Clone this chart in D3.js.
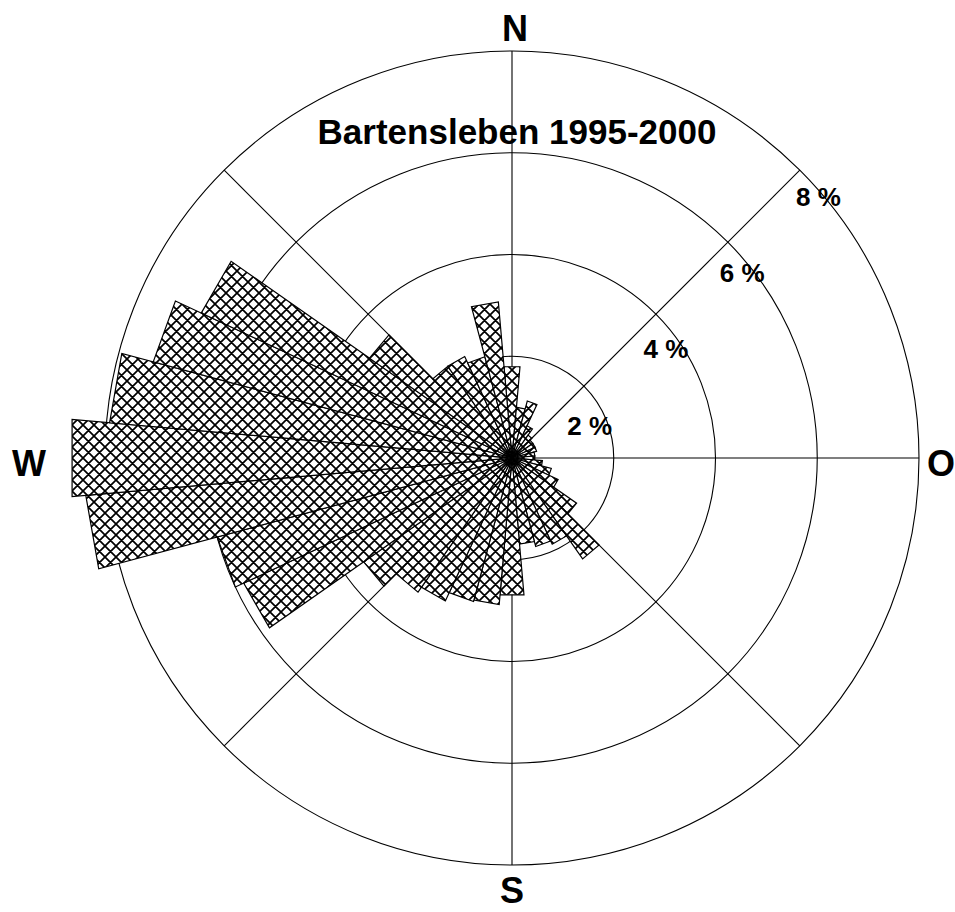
<!DOCTYPE html>
<html><head><meta charset="utf-8">
<script src="https://cdn.jsdelivr.net/npm/d3@7"></script>
<style>html,body{margin:0;padding:0;background:#fff;overflow:hidden}</style>
</head><body><div id="chart"></div>
<script>
// ---- data ----
const directions = [0,10,20,30,40,50,60,70,80,90,100,110,120,130,140,150,160,170,
                    180,190,200,210,220,230,240,250,260,270,280,290,300,310,320,330,340,350];
const frequencies = [1.80,1.00,1.16,0.70,0.55,0.50,0.50,0.50,0.45,0.45,0.60,0.80,1.00,1.55,2.42,1.87,1.80,1.70,
                     2.70,2.89,2.92,3.10,3.22,3.56,5.82,6.00,8.41,8.68,7.94,7.30,6.74,3.42,2.20,2.20,2.06,3.08];
const ringValues = [2,4,6,8];
const ringLabels = ["2 %","4 %","6 %","8 %"];
const spokeAngles = [0,45,90,135,180,225,270,315];
const compassLabels = ["N","O","S","W"];
const titleText = "Bartensleben 1995-2000";
const sectorWidth = 10;

// ---- layout ----
const W = 955, H = 912, cx = 512, cy = 458;
const r = d3.scaleLinear().domain([0,8]).range([0,407]);
const rad = d => d * Math.PI / 180;

const svg = d3.select("#chart").append("svg").attr("width", W).attr("height", H)
  .style("font-family", "'Liberation Sans', Arial, Helvetica, sans-serif");

const defs = svg.append("defs");
const pat = defs.append("pattern").attr("id","hatch").attr("patternUnits","userSpaceOnUse")
  .attr("width",11).attr("height",11);
pat.append("rect").attr("width",11).attr("height",11).attr("fill","#fff");
pat.append("path").attr("d","M-1,-1 L12,12 M12,-1 L-1,12 M-1,10 L1,12 M10,-1 L12,1 M-1,1 L1,-1 M10,12 L12,10")
  .attr("stroke","#000").attr("stroke-width",1.7).attr("fill","none");

const g = svg.append("g").attr("transform", `translate(${cx},${cy})`);

// grid circles
g.selectAll("circle.ring").data(ringValues).enter().append("circle")
  .attr("class","ring").attr("r", d => r(d)).attr("fill","none")
  .attr("stroke","#000").attr("stroke-width",1.1);

// spokes
g.selectAll("line.spoke").data(spokeAngles).enter().append("line")
  .attr("x1",0).attr("y1",0)
  .attr("x2", d => r(8) * Math.sin(rad(d)))
  .attr("y2", d => -r(8) * Math.cos(rad(d)))
  .attr("stroke","#000").attr("stroke-width",1.1);

// bars
const radial = d3.lineRadial().angle(p => p[0]).radius(p => p[1]);
const bars = directions.map((d,i) => ({dir:d, val:frequencies[i]}));
g.selectAll("path.bar").data(bars).enter().append("path")
  .attr("class","bar")
  .attr("d", b => radial([[0,0],[rad(b.dir - sectorWidth/2), r(b.val)],[rad(b.dir + sectorWidth/2), r(b.val)]]) + "Z")
  .attr("fill","url(#hatch)").attr("stroke","#000").attr("stroke-width",1.2)
  .attr("stroke-linejoin","miter");

// ring labels
g.selectAll("text.rl").data(ringValues).enter().append("text")
  .attr("x", d => r(d) * Math.SQRT1_2 * 1.06 - 21)
  .attr("y", d => -r(d) * Math.SQRT1_2 * 1.06 + 53)
  .attr("font-size", 26).attr("font-weight","bold")
  .text((d,i) => ringLabels[i]);

// compass labels
const compassPos = [
  {t:compassLabels[0], x:3,    y:-417, a:"middle"},
  {t:compassLabels[1], x:415,  y:18,   a:"start"},
  {t:compassLabels[2], x:0,    y:445,  a:"middle"},
  {t:compassLabels[3], x:-483, y:18,   a:"middle"}
];
g.selectAll("text.cl").data(compassPos).enter().append("text")
  .attr("x", d => d.x).attr("y", d => d.y).attr("text-anchor", d => d.a)
  .attr("font-size", 36).attr("font-weight","bold").text(d => d.t);

// title
svg.append("text").attr("x", 517).attr("y", 144).attr("text-anchor","middle")
  .attr("font-size", 35).attr("font-weight","bold").text(titleText);
</script>
</body></html>
